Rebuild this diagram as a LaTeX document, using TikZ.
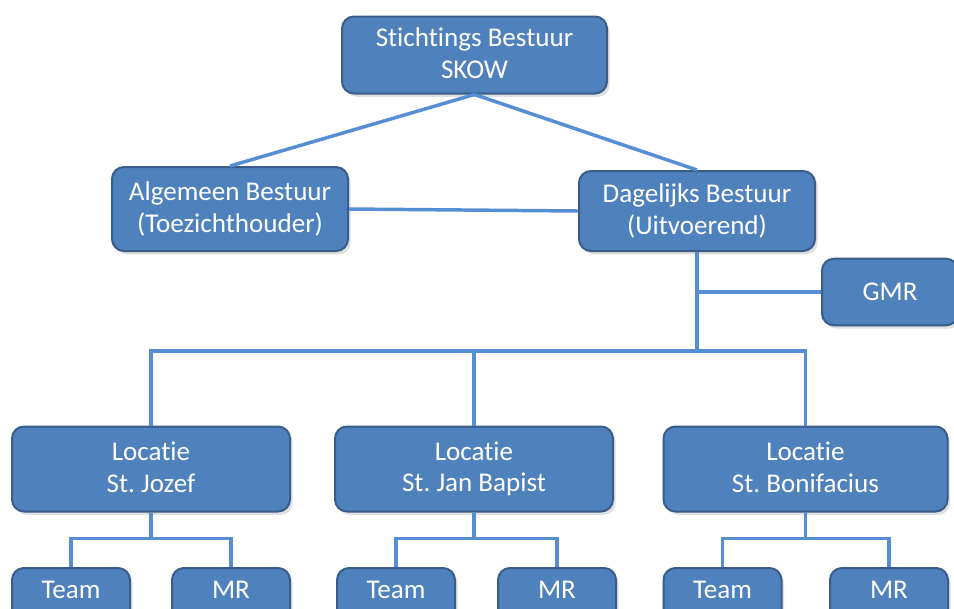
\documentclass[tikz,border=0pt]{standalone}
\usepackage{fontspec}
\setmainfont{Carlito}[RawFeature=-liga]
\usetikzlibrary{
  positioning,
  shadows
}
\definecolor{boxfill}{HTML}{4F81BD}
\definecolor{boxline}{HTML}{385D8A}
\definecolor{wire}{HTML}{558ED5}
\tikzset{
  unit/.style = {draw=boxline, fill=boxfill, line width=1.5pt,
    rounded corners=9pt, text=white, align=center, inner sep=0pt,
    font=\fontsize{20.3}{23.5}\selectfont,
    execute at begin node=\vphantom{(}, execute at end node=\vphantom{(},
    drop shadow={opacity=0.25, shadow xshift=2pt, shadow yshift=-2.5pt}},
  leaf/.style = {unit, anchor=north, minimum width=88.5pt,
    text height=22.5pt, text depth=40pt},
  link/.style = {draw=wire, line width=2.6pt},
}

\begin{document}
\frenchspacing
\begin{tikzpicture}[x=0.75pt, y=-0.75pt]
  \useasboundingbox (0,0) rectangle (954,608);
  \clip (0,0) rectangle (954,608);
  % bestuur
  \node[unit, minimum width=198.75pt, minimum height=57.75pt] (skow) at (474.5,55)
    {Stichtings Bestuur\\SKOW};
  \node[unit, minimum width=177pt, minimum height=63pt] (ab) at (230,209)
    {Algemeen Bestuur\\(Toezichthouder)};
  \node[unit, minimum width=177pt, minimum height=60pt] (db) at (697,211)
    {Dagelijks Bestuur\\(Uitvoerend)};
  \node[unit, minimum width=102pt, minimum height=50pt] (gmr) at (890,292) {GMR};
  % locaties
  \node[unit, minimum width=208.5pt, minimum height=63.75pt] (loc1) at (151,469)
    {Locatie\\St. Jozef};
  \node[unit, minimum width=208.5pt, minimum height=63.75pt] (loc2) at (474,469)
    {Locatie\\St. Jan Bapist};
  \node[unit, minimum width=213pt, minimum height=63.75pt] (loc3) at (805.5,469)
    {Locatie\\St. Bonifacius};
  % teams en MR
  \node[leaf] (team1) at (71,567) {Team};
  \node[leaf] (mr1) at (231,567) {MR};
  \node[leaf] (team2) at (396,567) {Team};
  \node[leaf] (mr2) at (557,567) {MR};
  \node[leaf] (team3) at (722.5,567) {Team};
  \node[leaf] (mr3) at (889,567) {MR};

  \draw[link]
      (skow.south) -- (ab.north)
      (skow.south) -- (db.north)
      (ab.east) -- (db.west);
  \path (db.south) ++(0,99) coordinate (bus);
  \draw[link] (db.south) -- (bus);
  \draw[link] (db.south |- gmr.west) -- (gmr.west);
  \draw[link] (loc1.north) |- (bus) -| (loc3.north);
  \draw[link] (loc2.north) -- (loc2.north |- bus);
  \foreach \i in {1,2,3} {
    \path (loc\i.south) ++(0,26) coordinate (sub\i);
    \draw[link] (loc\i.south) -- (sub\i);
    \draw[link] (team\i.north) |- (sub\i) -| (mr\i.north);
  }
\end{tikzpicture}
\end{document}
